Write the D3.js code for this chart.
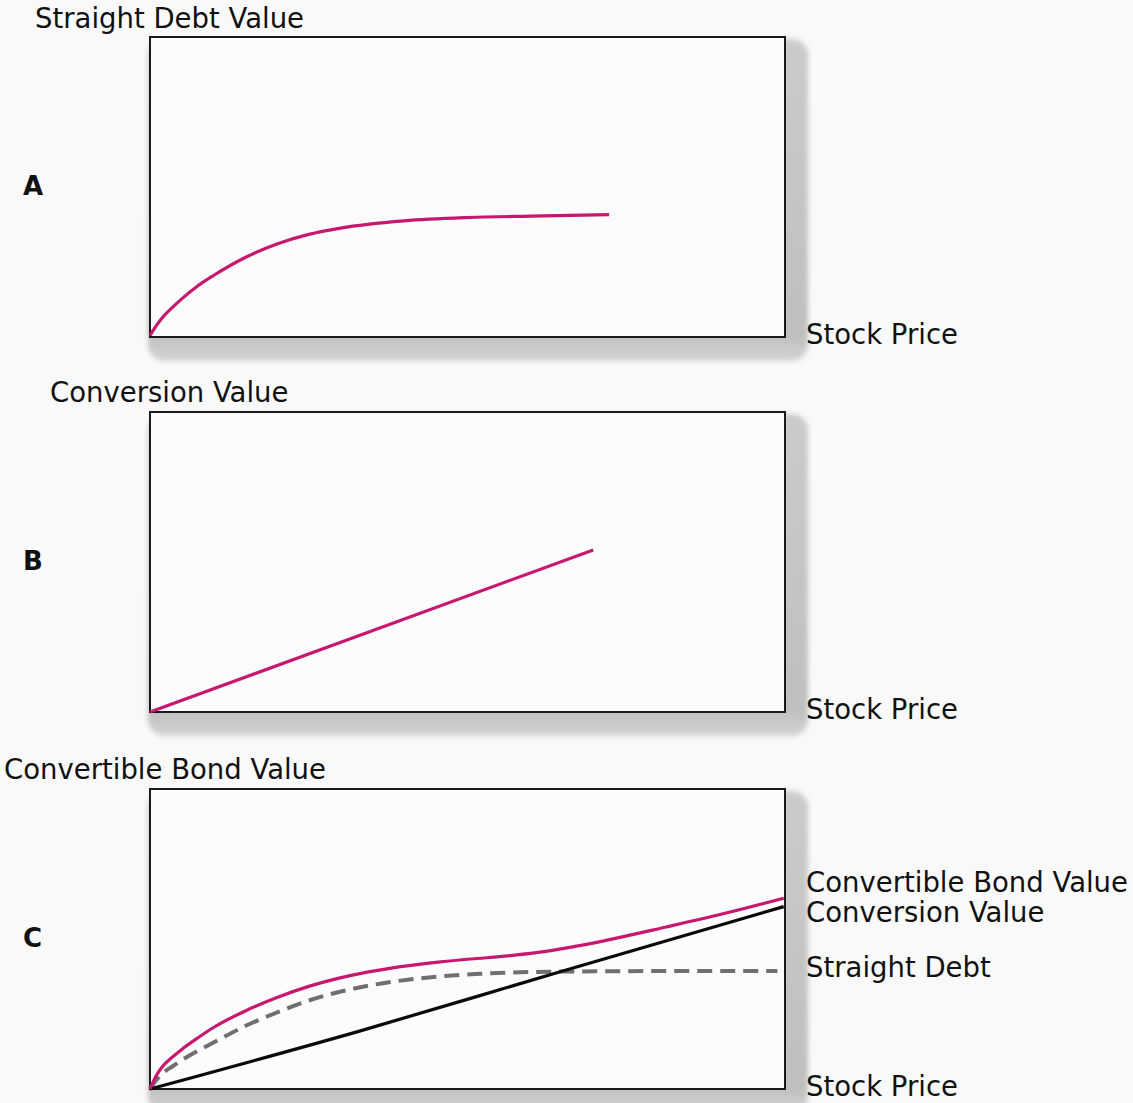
<!DOCTYPE html>
<html>
<head>
<meta charset="utf-8">
<script src="https://cdn.jsdelivr.net/npm/d3@7"></script>
<style>
  html, body { margin: 0; padding: 0; background: #f9f9f9; }
  svg { display: block; }
  text { font-family: "DejaVu Sans", "Noto Sans", sans-serif; fill: #111; }
</style>
</head>
<body>
<svg id="chart" width="1133" height="1103"></svg>
<script>
// Panel A: straight debt value vs stock price
const debtPrice = [0, 1, 2, 3.5, 5, 7.5, 10, 15, 20, 25, 30, 40, 50, 60, 72.3];
const debtValue = [0.5, 3.8, 6.6, 9.8, 12.7, 17, 20.5, 26.5, 31, 34.2, 36.3, 38.7, 39.8, 40.3, 40.8];

// Panel B: conversion value vs stock price
const convPrice = [0, 69.8];
const convValue = [0, 54];

// Panel C: convertible bond value, conversion value and straight debt
const cbPrice = [0, 1, 2, 3.5, 5, 7.5, 10, 15, 20, 25, 31.5, 38, 45, 51.5, 55, 61.4, 71.3, 81.3, 91.2, 99.8];
const cbValue = [0, 4.5, 7.6, 10.6, 13.2, 17, 20.5, 26, 30.5, 34.2, 37.8, 40.3, 42.2, 43.5, 44.1, 45.6, 49.3, 54, 58.9, 63.6];
const cvPrice = [0, 33, 64.6, 99.8];
const cvValue = [0, 19.3, 39.1, 60.8];
const sdPrice = [0, 1, 2, 3.5, 5, 7.5, 10, 15, 20, 25, 31.5, 38, 45, 52, 63, 80, 98.8];
const sdValue = [0, 3, 5.2, 7.5, 9.6, 12.7, 15.5, 21, 25.5, 29.5, 33.2, 35.7, 37.4, 38.4, 39.1, 39.3, 39.3];

const panelLetters = ["A", "B", "C"];
const yTitles = ["Straight Debt Value", "Conversion Value", "Convertible Bond Value"];
const xTitle = "Stock Price";
const cLabels = ["Convertible Bond Value", "Conversion Value", "Straight Debt"];

const PINK = "#c8176f";
const FS = 27.5;
const svg = d3.select("#chart");

// soft drop shadow behind each panel
const defs = svg.append("defs");
defs.append("filter").attr("id", "soft")
  .attr("x", "-10%").attr("y", "-10%").attr("width", "120%").attr("height", "120%")
  .append("feGaussianBlur").attr("stdDeviation", 2.5);
const grad = defs.append("linearGradient").attr("id", "shadeGrad")
  .attr("x1", 0).attr("y1", 0).attr("x2", 0).attr("y2", 1);
grad.append("stop").attr("offset", "0%").attr("stop-color", "#cbcbcb");
grad.append("stop").attr("offset", "92%").attr("stop-color", "#bfbfbf");
grad.append("stop").attr("offset", "100%").attr("stop-color", "#d4d4d4");

const W = 635, H = 300;
const x = d3.scaleLinear().domain([0, 100]).range([0, W]);
const y = d3.scaleLinear().domain([0, 100]).range([H, 0]);
const line = d3.line().x(d => x(d[0])).y(d => y(d[1])).curve(d3.curveMonotoneX);
const zip = (a, b) => a.map((v, i) => [v, b[i]]);

const panelTops = [37, 412, 789];
const left = 150;

panelTops.forEach((top, i) => {
  const g = svg.append("g").attr("transform", `translate(${left},${top})`);

  g.append("rect")
    .attr("x", -2).attr("y", 2).attr("width", W + 25).attr("height", H + 22)
    .attr("rx", 16).attr("fill", "url(#shadeGrad)").attr("filter", "url(#soft)");
  g.append("rect")
    .attr("width", W).attr("height", H)
    .attr("fill", "#fcfcfc").attr("stroke", "#1a1a1a").attr("stroke-width", 2);

  const plot = g.append("g");
  if (i === 0) {
    plot.append("path").datum(zip(debtPrice, debtValue)).attr("d", line)
      .attr("fill", "none").attr("stroke", PINK).attr("stroke-width", 3.2);
  } else if (i === 1) {
    plot.append("path").datum(zip(convPrice, convValue)).attr("d", line)
      .attr("fill", "none").attr("stroke", PINK).attr("stroke-width", 3.2);
  } else {
    plot.append("path").datum(zip(sdPrice, sdValue)).attr("d", line)
      .attr("fill", "none").attr("stroke", "#6f6f6f").attr("stroke-width", 4)
      .attr("stroke-dasharray", "15 8");
    plot.append("path").datum(zip(cvPrice, cvValue)).attr("d", line)
      .attr("fill", "none").attr("stroke", "#0a0a0a").attr("stroke-width", 3.2);
    plot.append("path").datum(zip(cbPrice, cbValue)).attr("d", line)
      .attr("fill", "none").attr("stroke", PINK).attr("stroke-width", 3.2);
  }

  // panel letter
  svg.append("text").attr("x", 23).attr("y", top + 158)
    .attr("font-size", 26).attr("font-weight", "bold").text(panelLetters[i]);

  // x-axis title at the right of the baseline
  svg.append("text").attr("x", left + W + 21).attr("y", top + H + 7)
    .attr("font-size", FS).text(xTitle);
});

// y-axis titles above each panel
svg.append("text").attr("x", 35).attr("y", 28).attr("font-size", FS).text(yTitles[0]);
svg.append("text").attr("x", 50).attr("y", 402).attr("font-size", FS).text(yTitles[1]);
svg.append("text").attr("x", 4).attr("y", 779).attr("font-size", FS).text(yTitles[2]);

// series labels for panel C
const cTop = panelTops[2];
const labelY = [cTop + 103, cTop + 133, cTop + 188];
cLabels.forEach((t, i) => {
  svg.append("text").attr("x", left + W + 21).attr("y", labelY[i])
    .attr("font-size", FS).text(t);
});
</script>
</body>
</html>
